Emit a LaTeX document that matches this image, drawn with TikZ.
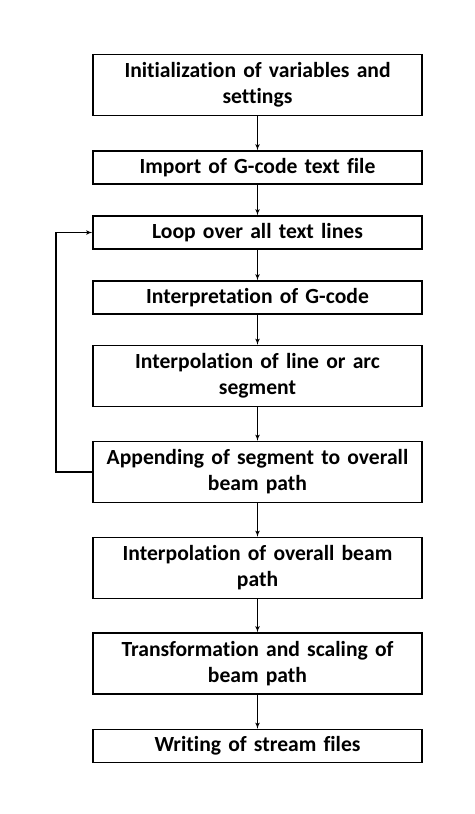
\documentclass[tikz,border=0pt]{standalone}
\usepackage{fontspec}
\setmainfont{Carlito}[Ligatures=NoCommon,WordSpace=0.85]
\usetikzlibrary{arrows,positioning,calc}

\begin{document}
\begin{tikzpicture}
[x=1pt,y=-1pt,
S/.style={draw,line width=1.5pt,minimum width=329pt,text width=324pt,align=center,inner sep=0pt,
  font=\bfseries\fontsize{21.6}{26}\selectfont},
S1/.style={S,minimum height=33pt},
S2/.style={S,minimum height=61pt},
dedge/.style={black,-latex',line width=1.1pt}]
\useasboundingbox (0,0) rectangle (474,814);
%%
%%%%%%%%%%%%%%%%%%
% steps
%%%%%%%%%%%%%%%%%%
\node[S2] (init) at (257.5,85) {Initialization of variables and\\ settings};
\node[S1] (import) at (257.5,167.5) {Import of G-code text file};
\node[S1] (loop) at (257.5,232.5) {Loop over all text lines};
\node[S1] (interp) at (257.5,297.5) {Interpretation of G-code};
\node[S2] (seg) at (257.5,376) {Interpolation of line or arc\\ segment};
\node[S2] (append) at (257.5,472) {Appending of segment to overall\\ beam path};
\node[S2] (beam) at (257.5,568) {Interpolation of overall beam\\ path};
\node[S2] (trafo) at (257.5,663.5) {Transformation and scaling of\\ beam path};
\node[S1] (write) at (257.5,746) {Writing of stream files};
%%
%% edges
\draw[dedge] (init) -- (import);
\draw[dedge] (import) -- (loop);
\draw[dedge] (loop) -- (interp);
\draw[dedge] (interp) -- (seg);
\draw[dedge] (seg) -- (append);
\draw[dedge] (append) -- (beam);
\draw[dedge] (beam) -- (trafo);
\draw[dedge] (trafo) -- (write);
%%
%% back edge
\coordinate (back) at (56,472);
\draw[dedge] (append.west) -- (back) |- (loop.west);
%%
\end{tikzpicture}
\end{document}
